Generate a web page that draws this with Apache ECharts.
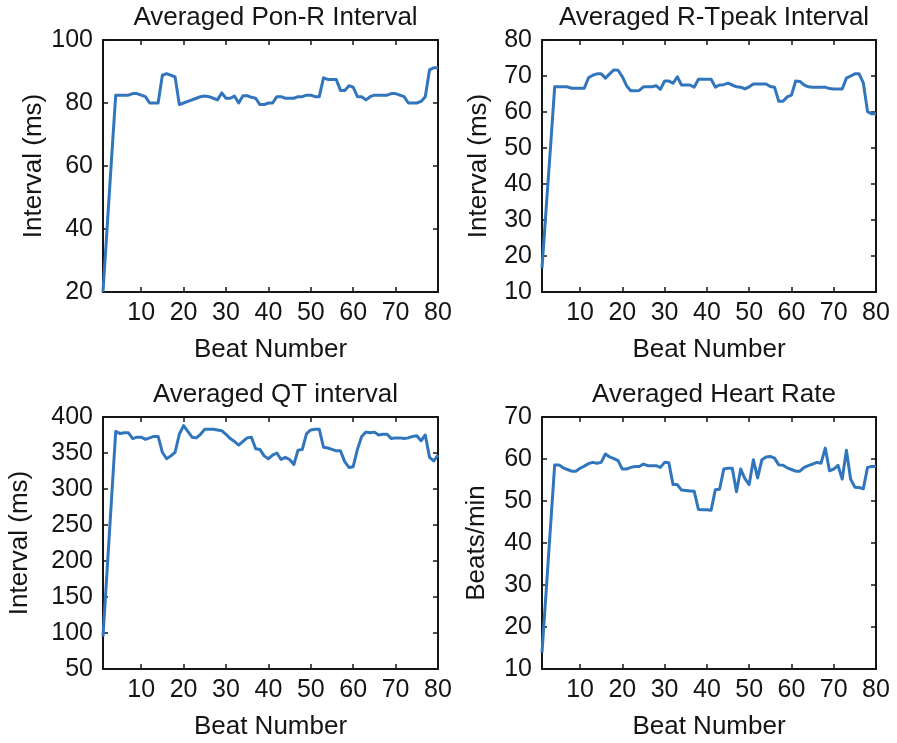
<!DOCTYPE html>
<html>
<head>
<meta charset="utf-8">
<script src="https://cdn.jsdelivr.net/npm/echarts@6/dist/echarts.min.js"></script>
<style>html,body{margin:0;padding:0;background:#fff;}#c{width:897px;height:743px;}</style>
</head>
<body>
<div id="c"></div>
<script>
const titles = ['Averaged Pon-R Interval', 'Averaged R-Tpeak Interval', 'Averaged QT interval', 'Averaged Heart Rate'];
const yNames = ['Interval (ms)', 'Interval (ms)', 'Interval (ms)', 'Beats/min'];
const xName = 'Beat Number';
const xTicks = [10, 20, 30, 40, 50, 60, 70, 80];
const yTicks1 = [20, 40, 60, 80, 100];
const yTicks2 = [10, 20, 30, 40, 50, 60, 70, 80];
const yTicks3 = [50, 100, 150, 200, 250, 300, 350, 400];
const yTicks4 = [10, 20, 30, 40, 50, 60, 70];

const ponR = [20, 41, 62, 82.5, 82.5, 82.5, 82.5, 83, 83, 82.5,
  82, 80, 80, 80, 88.8, 89.3, 88.8, 88.3, 79.5, 80,
  80.5, 81, 81.5, 82, 82.2, 82, 81.5, 81, 83.2, 81.5,
  81.5, 82.2, 80, 82.3, 82.3, 81.8, 81.5, 79.5, 79.5, 80,
  80, 82, 82, 81.5, 81.5, 81.5, 82, 82, 82.5, 82.5,
  82, 82, 88, 87.5, 87.5, 87.5, 84, 84, 85.5, 85,
  82, 82, 81, 82, 82.5, 82.5, 82.5, 82.5, 83, 83,
  82.5, 82, 80, 80, 80, 80.5, 82, 90.5, 91.2, 91.2];

const rTpeak = [16.6, 33.5, 50, 67, 67, 67, 67, 66.6, 66.6, 66.6,
  66.6, 69.5, 70.2, 70.6, 70.6, 69.4, 70.6, 71.7, 71.6, 69.8,
  67.3, 65.9, 65.9, 66, 67, 67, 67, 67.3, 66.3, 68.6,
  68.6, 68, 69.8, 67.5, 67.5, 67.5, 66.9, 69.1, 69.1, 69.1,
  69.1, 66.9, 67.5, 67.6, 68, 67.5, 67, 66.9, 66.4, 67,
  67.8, 67.8, 67.8, 67.8, 67.1, 66.9, 63, 63, 64.2, 64.7,
  68.6, 68.5, 67.5, 67, 66.9, 66.9, 66.9, 66.9, 66.5, 66.4,
  66.4, 66.4, 69.4, 70, 70.6, 70.6, 68.1, 60.1, 59.5, 59.5];

const qt = [95, 190, 285, 380, 377, 378, 378, 370, 372, 372,
  369, 371, 373, 373, 351, 342, 346, 351, 376, 388,
  380, 372, 371, 376, 383, 383, 383, 382, 381, 376,
  370, 366, 361, 366, 371, 372, 356, 355, 346, 342,
  347, 350, 341, 344, 341, 334, 354, 355, 377, 382,
  383, 383, 358, 357, 355, 353, 353, 338, 330, 331,
  355, 373, 379, 378, 379, 375, 376, 376, 370, 371,
  371, 370, 371, 373, 374, 367, 375, 344, 339, 347];

const hr = [13.9, 28.8, 43.7, 58.6, 58.6, 57.9, 57.5, 57.1, 57.1, 57.8,
  58.3, 58.9, 59.2, 59.0, 59.2, 61.2, 60.5, 60.1, 59.6, 57.6,
  57.6, 58.0, 58.2, 58.2, 58.8, 58.4, 58.4, 58.4, 58.0, 59.2,
  59.1, 53.9, 53.9, 52.6, 52.5, 52.4, 52.3, 48.0, 47.9, 47.9,
  47.8, 52.7, 52.8, 57.6, 57.8, 57.8, 52.2, 57.6, 55.3, 53.9,
  59.8, 55.5, 59.8, 60.5, 60.6, 60.2, 58.6, 58.5, 57.9, 57.5,
  57.1, 57.1, 58.0, 58.4, 58.8, 59.2, 59.0, 62.6, 57.2, 57.6,
  58.5, 55.2, 62.1, 55.2, 53.3, 53.2, 52.9, 58.0, 58.2, 58.3];

const seriesVals = [ponR, rTpeak, qt, hr];
const yTickSets = [yTicks1, yTicks2, yTicks3, yTicks4];
const yNameGaps = [56, 50, 70, 52];

const FONT = 'Liberation Sans, Arial, Helvetica, sans-serif';
const INK = '#151515';
const grids = [
  {left: 103, top: 40, width: 335, height: 252},
  {left: 542, top: 40, width: 334, height: 252},
  {left: 103, top: 417, width: 335, height: 252},
  {left: 542, top: 417, width: 334, height: 252}
];

const xAxes = [], yAxes = [], series = [], titleList = [];
grids.forEach((g, i) => {
  const yt = yTickSets[i];
  const ymin = yt[0], ymax = yt[yt.length - 1], yint = yt[1] - yt[0];
  const lineCfg = {show: true, onZero: false, lineStyle: {color: INK, width: 2}};
  const tickCfg = {show: true, inside: true, length: 5, lineStyle: {color: INK, width: 1.5}};
  xAxes.push({
    type: 'value', gridIndex: i, position: 'bottom', min: 1, max: 80,
    axisLine: lineCfg,
    axisTick: Object.assign({}, tickCfg, {customValues: xTicks}),
    axisLabel: {show: true, customValues: xTicks, color: INK, fontSize: 25, fontFamily: FONT, margin: 9},
    splitLine: {show: false},
    name: xName, nameLocation: 'middle', nameGap: 45,
    nameTextStyle: {color: INK, fontSize: 26, fontFamily: FONT}
  });
  xAxes.push({
    type: 'value', gridIndex: i, position: 'top', min: 1, max: 80,
    axisLine: lineCfg,
    axisTick: Object.assign({}, tickCfg, {customValues: xTicks}),
    axisLabel: {show: false}, splitLine: {show: false}
  });
  yAxes.push({
    type: 'value', gridIndex: i, position: 'left', min: ymin, max: ymax, interval: yint,
    axisLine: lineCfg, axisTick: tickCfg,
    axisLabel: {show: true, color: INK, fontSize: 25, fontFamily: FONT, margin: 10},
    splitLine: {show: false},
    name: yNames[i], nameLocation: 'middle', nameGap: yNameGaps[i], nameRotate: 90,
    nameTextStyle: {color: INK, fontSize: 26, fontFamily: FONT}
  });
  yAxes.push({
    type: 'value', gridIndex: i, position: 'right', min: ymin, max: ymax, interval: yint,
    axisLine: lineCfg, axisTick: tickCfg,
    axisLabel: {show: false}, splitLine: {show: false}
  });
  const vals = seriesVals[i];
  series.push({
    type: 'line', xAxisIndex: i * 2, yAxisIndex: i * 2,
    data: vals.map((v, k) => [k + 1, v]),
    showSymbol: false, symbol: 'none', clip: true,
    lineStyle: {color: '#3176BD', width: 3, join: 'round'},
    animation: false
  });
  titleList.push({
    text: titles[i], left: g.left + g.width / 2, top: g.top - 40, textAlign: 'center',
    textStyle: {color: INK, fontSize: 26, fontWeight: 'normal', fontFamily: FONT}
  });
});

const chart = echarts.init(document.getElementById('c'), null, {renderer: 'canvas'});
chart.setOption({
  backgroundColor: '#fff',
  animation: false,
  title: titleList,
  grid: grids,
  xAxis: xAxes,
  yAxis: yAxes,
  series: series
});
</script>
</body>
</html>
